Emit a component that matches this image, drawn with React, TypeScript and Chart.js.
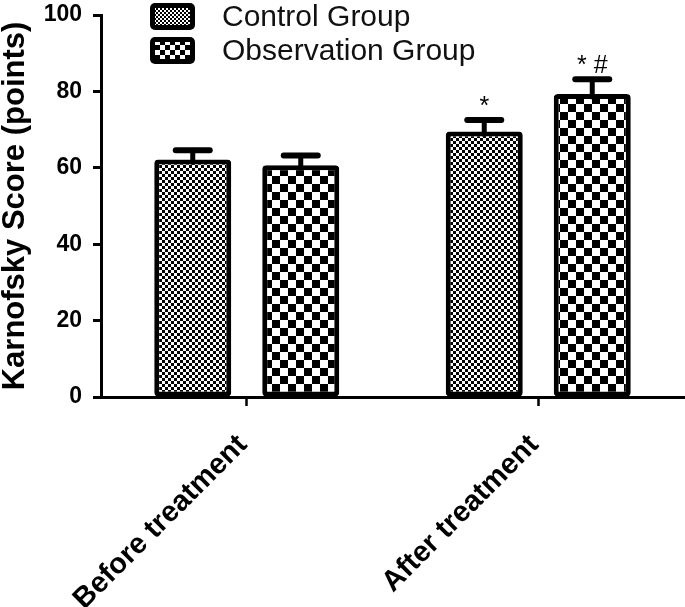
import React, { useEffect, useRef } from "react";
import { Chart, registerables } from "chart.js";

Chart.register(...registerables);

const categories = ["Before treatment", "After treatment"];
const seriesNames = ["Control Group", "Observation Group"];
const controlValues = [62.2, 69.5];
const observationValues = [60.7, 79.3];
const controlErrors = [2.4, 3.0];
const observationErrors = [2.5, 3.9];
const controlMarks = ["", "*"];
const observationMarks = ["", "* #"];
const yTickValues = [0, 20, 40, 60, 80, 100];
const yTitle = "Karnofsky Score (points)";

const FONT = 'Arial, "Liberation Sans", Helvetica, sans-serif';

function checker(ctx: CanvasRenderingContext2D, cell: number): CanvasPattern {
  const c = document.createElement("canvas");
  c.width = cell * 2;
  c.height = cell * 2;
  const g = c.getContext("2d")!;
  g.fillStyle = "#fff";
  g.fillRect(0, 0, cell * 2, cell * 2);
  g.fillStyle = "#000";
  g.fillRect(0, 0, cell, cell);
  g.fillRect(cell, cell, cell, cell);
  return ctx.createPattern(c, "repeat")!;
}

export default function App() {
  const ref = useRef<HTMLCanvasElement>(null);

  useEffect(() => {
    const canvas = ref.current!;
    const ctx = canvas.getContext("2d")!;
    const controlFill = checker(ctx, 3);
    const obsFill = checker(ctx, 8);
    const legendFills = [checker(ctx, 2), checker(ctx, 5)];
    const errors = [controlErrors, observationErrors];
    const marks = [controlMarks, observationMarks];

    const errorPlugin = {
      id: "errorBars",
      afterDatasetsDraw(chart: any) {
        const c = chart.ctx as CanvasRenderingContext2D;
        const y = chart.scales.y;
        c.save();
        c.strokeStyle = "#000";
        c.lineCap = "round";
        chart.data.datasets.forEach((ds: any, i: number) => {
          const meta = chart.getDatasetMeta(i);
          meta.data.forEach((bar: any, j: number) => {
            const v = ds.data[j] as number;
            const top = y.getPixelForValue(v + errors[i][j]);
            c.lineWidth = 5;
            c.beginPath();
            c.moveTo(bar.x, bar.y + 3);
            c.lineTo(bar.x, top);
            c.stroke();
            c.lineWidth = 6;
            c.beginPath();
            c.moveTo(bar.x - 17, top);
            c.lineTo(bar.x + 17, top);
            c.stroke();
            const m = marks[i][j];
            if (m) {
              c.font = `25px ${FONT}`;
              c.fillStyle = "#000";
              c.textAlign = "center";
              c.textBaseline = "middle";
              c.fillText(m, bar.x, top - 13);
            }
          });
        });
        c.restore();
      },
    };

    const legendPlugin = {
      id: "customLegend",
      afterDraw(chart: any) {
        const c = chart.ctx as CanvasRenderingContext2D;
        const rows = [3, 37];
        c.save();
        seriesNames.forEach((name, i) => {
          const top = rows[i];
          c.fillStyle = "#000";
          c.beginPath();
          (c as any).roundRect(150, top, 45, 27, 5);
          c.fill();
          c.fillStyle = legendFills[i];
          c.fillRect(155, top + 5, 35, 17);
          c.fillStyle = "#111";
          c.font = `30px ${FONT}`;
          c.textAlign = "left";
          c.textBaseline = "middle";
          c.fillText(name, 222, top + 15);
        });
        c.restore();
      },
    };

    const chart = new Chart(canvas, {
      type: "bar",
      data: {
        labels: categories,
        datasets: [
          {
            label: seriesNames[0],
            data: controlValues,
            backgroundColor: controlFill as any,
            borderColor: "#000",
            borderWidth: 5,
            borderRadius: 4,
            borderSkipped: false,
          },
          {
            label: seriesNames[1],
            data: observationValues,
            backgroundColor: obsFill as any,
            borderColor: "#000",
            borderWidth: 5,
            borderRadius: 4,
            borderSkipped: false,
          },
        ],
      },
      options: {
        responsive: false,
        animation: false,
        layout: { padding: { top: 15, right: 1, left: 0, bottom: 0 } },
        plugins: { legend: { display: false }, tooltip: { enabled: false } },
        datasets: { bar: { categoryPercentage: 0.741, barPercentage: 0.713 } },
        scales: {
          x: {
            offset: true,
            grid: {
              offset: false,
              drawOnChartArea: false,
              drawTicks: true,
              tickLength: 9,
              tickWidth: 2.5,
              tickColor: "#000",
              color: "#000",
            },
            border: { color: "#000", width: 3 },
            ticks: {
              color: "#000",
              font: { family: FONT, size: 29, weight: "bold" },
              maxRotation: 45,
              minRotation: 45,
              padding: 22,
              labelOffset: -4,
            },
            afterFit: (s: any) => {
              s.height = 210;
              s.paddingLeft = 0;
              s.paddingRight = 0;
            },
          },
          y: {
            min: 0,
            max: 100,
            afterBuildTicks: (s: any) => {
              s.ticks = yTickValues.map((v) => ({ value: v }));
            },
            grid: {
              drawOnChartArea: false,
              drawTicks: true,
              tickLength: 8,
              tickWidth: 3,
              tickColor: "#000",
              color: "#000",
            },
            border: { color: "#000", width: 3 },
            ticks: {
              color: "#000",
              padding: 11,
              font: { family: FONT, size: 23, weight: "bold" },
            },
            title: {
              display: true,
              text: yTitle,
              color: "#000",
              font: { family: FONT, size: 31, weight: "bold", lineHeight: 1 },
              padding: 0,
            },
            afterFit: (s: any) => {
              s.width = 101;
              s.paddingTop = 0;
              s.paddingBottom = 0;
            },
          },
        },
      },
      plugins: [errorPlugin, legendPlugin],
    } as any);

    return () => chart.destroy();
  }, []);

  return (
    <div style={{ position: "absolute", left: 0, top: 0, width: 685, height: 607, background: "#fff" }}>
      <canvas ref={ref} width={685} height={607} />
    </div>
  );
}
